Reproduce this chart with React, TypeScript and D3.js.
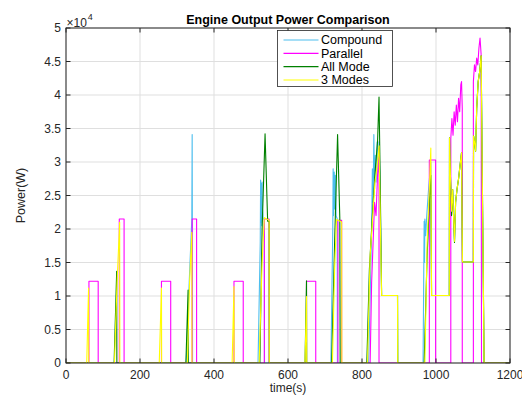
import React from "react";
import * as d3 from "d3";

type Pt = [number, number];

const xTicks = [0, 200, 400, 600, 800, 1000, 1200];
const yTicks = [0, 5000, 10000, 15000, 20000, 25000, 30000, 35000, 40000, 45000, 50000];
const yTickLabels = ["0", "0.5", "1", "1.5", "2", "2.5", "3", "3.5", "4", "4.5", "5"];

const seriesNames = ["Compound", "Parallel", "All Mode", "3 Modes"];
const seriesColors = ["#4DBEEE", "#FF00FF", "#008000", "#FFFF00"];

const compound: Pt[] = [
  [0, 0], [325, 0], [333, 12000], [340, 21500], [341, 34100], [341.5, 21500], [342, 0],
  [519, 0], [525, 18000], [526, 27300], [527, 21000], [528, 26800], [529, 20500], [530, 27000], [531, 23000], [533, 21500], [536, 21500], [536.5, 0],
  [716, 0], [721, 20000], [722, 29000], [723, 22000], [725, 28500], [726, 23000], [728, 28000], [730, 22000], [733, 21500], [733.5, 0],
  [818, 0], [826, 20000], [828, 29000], [830, 24000], [832, 34100], [834, 26000], [836, 31000], [838, 27000], [841, 33000], [844, 28500], [846, 33000], [849, 26000], [853, 10080], [896, 10080], [896.5, 0],
  [965, 0], [968, 21150], [969, 15000], [970, 21500], [972, 19000], [975, 22000], [980, 26000], [986, 30000], [988, 10080], [1036, 10080],
  [1036.5, 33600], [1039, 28000], [1042, 22650], [1045, 25900], [1048, 21000], [1050, 18160], [1053, 24000], [1057, 26000], [1061, 27500], [1065, 29500], [1069, 31400], [1071.5, 15070], [1101, 15070],
  [1101.5, 33900], [1104, 33000], [1107, 31600], [1110, 38000], [1114, 42000], [1118, 43500], [1122, 45850], [1130, 0], [1200, 0],
];

const parallel: Pt[] = [
  [0, 0], [62, 0], [62, 12200], [87, 12200], [87, 0],
  [144, 0], [144, 21500], [157, 21500], [157, 0],
  [258, 0], [258, 12200], [283, 12200], [283, 0],
  [341, 0], [341, 21500], [353, 21500], [353, 0],
  [454, 0], [454, 12200], [479, 12200], [479, 0],
  [536, 0], [536, 21500], [549, 21500], [549, 0],
  [650, 0], [650, 12200], [675, 12200], [675, 0],
  [735, 0], [735, 21300], [745, 21300], [745, 0],
  [822, 0], [826, 12000], [830, 18000], [834, 24000], [838, 22000], [842, 28000], [846, 32000], [846, 0],
  [982, 0], [982, 30300], [999, 30300], [999, 0],
  [1040, 0], [1040, 33500], [1043, 36500], [1046, 34000], [1049, 37500], [1052, 35500], [1055, 38500], [1058, 36000], [1061, 39500], [1064, 37500], [1067, 41500], [1069, 42000], [1071, 38000], [1071, 0],
  [1101, 0], [1101, 42000], [1104, 44500], [1107, 43500], [1110, 45500], [1113, 44500], [1116, 47000], [1119, 48500], [1122, 46000], [1123, 0], [1200, 0],
];

const allMode: Pt[] = [
  [0, 0], [130, 0], [137, 13700], [137.5, 0],
  [324, 0], [330, 10900], [330.5, 0],
  [524, 0], [530, 20000], [538, 34200], [545, 21150], [549, 21150], [549.5, 0],
  [646, 0], [650, 12270], [650.5, 0],
  [718, 0], [726, 18000], [734, 34100], [740, 21660], [741, 0],
  [813, 0], [820, 14000], [828, 22000], [836, 29000], [842, 33000], [846, 39700], [849, 28000], [853, 10080], [896, 10080], [896.5, 0],
  [968, 0], [976, 16000], [982, 24000], [986, 28000], [988, 10080], [1036, 10080],
  [1036.5, 33600], [1039, 28000], [1042, 22000], [1045, 25900], [1048, 21000], [1050, 18000], [1053, 24000], [1057, 26000], [1061, 27500], [1065, 29500], [1069, 31400], [1071.5, 15070], [1101, 15070],
  [1101.5, 33900], [1104, 33000], [1107, 31600], [1110, 38000], [1114, 42000], [1118, 43500], [1122, 45850], [1130, 0], [1200, 0],
];

const modes3: Pt[] = [
  [0, 0], [56, 0], [61, 11200], [61.5, 0],
  [131, 0], [138, 12000], [145, 21000], [145.5, 0],
  [252, 0], [258, 11200], [258.5, 0],
  [328, 0], [334, 12000], [340, 19500], [340.5, 0],
  [449, 0], [454, 11400], [454.5, 0],
  [522, 0], [530, 15000], [536, 21700], [549, 21300], [549.5, 0],
  [646, 0], [650, 9900], [650.5, 0],
  [720, 0], [726, 14000], [731, 21400], [745, 21060], [745.5, 0],
  [815, 0], [822, 16000], [828, 21000], [835, 27000], [840, 29000], [846, 32400], [853, 10080], [896, 10080], [896.5, 0],
  [970, 0], [976, 18000], [982, 26000], [986, 32100], [988, 10080], [1036, 10080],
  [1036.5, 33600], [1039, 28000], [1042, 22650], [1045, 25900], [1048, 21000], [1050, 18160], [1053, 24000], [1057, 26000], [1061, 27500], [1065, 29500], [1069, 31400], [1071.5, 15070], [1101, 15070],
  [1101.5, 33900], [1104, 33000], [1107, 31600], [1110, 38000], [1114, 42000], [1118, 43500], [1122, 45850], [1130, 0], [1200, 0],
];

const allSeries = [compound, parallel, allMode, modes3];

const FONT = "'Liberation Sans', Arial, Helvetica, sans-serif";

export default function App() {
  const left = 66, right = 510, top = 28, bottom = 363;
  const x = d3.scaleLinear().domain([0, 1200]).range([left, right]);
  const y = d3.scaleLinear().domain([0, 50000]).range([bottom, top]);
  const line = d3.line<Pt>().x((d) => x(d[0])).y((d) => y(d[1]));
  const axisColor = "#262626";
  const tickLen = 4.5;

  return (
    <svg
      width={522}
      height={396}
      style={{ position: "absolute", left: 0, top: 0, display: "block", background: "#fff" }}
      fontFamily={FONT}
    >
      <rect x={0} y={0} width={522} height={396} fill="#fff" />
      <defs>
        <clipPath id="plotClip">
          <rect x={left} y={top} width={right - left} height={bottom - top} />
        </clipPath>
      </defs>
      {xTicks.map((t) => (
        <line key={"gx" + t} x1={x(t)} x2={x(t)} y1={top} y2={bottom} stroke="#dfdfdf" strokeWidth={1} />
      ))}
      {yTicks.map((t) => (
        <line key={"gy" + t} x1={left} x2={right} y1={y(t)} y2={y(t)} stroke="#dfdfdf" strokeWidth={1} />
      ))}
      <g clipPath="url(#plotClip)">
        {allSeries.map((s, i) => (
          <path key={i} d={line(s) || ""} fill="none" stroke={seriesColors[i]} strokeWidth={1.1} strokeLinejoin="round" />
        ))}
      </g>
      <rect x={left} y={top} width={right - left} height={bottom - top} fill="none" stroke={axisColor} strokeWidth={1} />
      {xTicks.map((t) => (
        <g key={"tx" + t}>
          <line x1={x(t)} x2={x(t)} y1={bottom} y2={bottom - tickLen} stroke={axisColor} />
          <line x1={x(t)} x2={x(t)} y1={top} y2={top + tickLen} stroke={axisColor} />
          <text x={x(t)} y={378.5} fontSize={12} textAnchor="middle" fill={axisColor}>
            {t}
          </text>
        </g>
      ))}
      {yTicks.map((t, i) => (
        <g key={"ty" + t}>
          <line x1={left} x2={left + tickLen} y1={y(t)} y2={y(t)} stroke={axisColor} />
          <line x1={right} x2={right - tickLen} y1={y(t)} y2={y(t)} stroke={axisColor} />
          <text x={61} y={y(t) + 4.2} fontSize={12} textAnchor="end" fill={axisColor}>
            {yTickLabels[i]}
          </text>
        </g>
      ))}
      <text x={66.5} y={26.5} fontSize={12} fill={axisColor}>
        ×10
        <tspan fontSize={9} dy={-7} dx={1}>4</tspan>
      </text>
      <text x={(left + right) / 2} y={23.5} fontSize={12.5} fontWeight="bold" textAnchor="middle" fill="#000">
        Engine Output Power Comparison
      </text>
      <text x={(left + right) / 2} y={392} fontSize={12} textAnchor="middle" fill={axisColor}>
        time(s)
      </text>
      <text
        transform={`translate(24.5, ${(top + bottom) / 2}) rotate(-90)`}
        fontSize={12.5}
        textAnchor="middle"
        fill={axisColor}
      >
        Power(W)
      </text>
      <g>
        <rect x={277.5} y={30.5} width={115} height={56} fill="#fff" stroke={axisColor} strokeWidth={0.8} />
        {seriesNames.map((n, i) => {
          const ry = 40 + i * 13.33;
          return (
            <g key={n}>
              <line x1={283.5} x2={318.5} y1={ry} y2={ry} stroke={seriesColors[i]} strokeWidth={1.1} />
              <text x={321} y={ry + 4.4} fontSize={12.5} fill="#000">
                {n}
              </text>
            </g>
          );
        })}
      </g>
    </svg>
  );
}
